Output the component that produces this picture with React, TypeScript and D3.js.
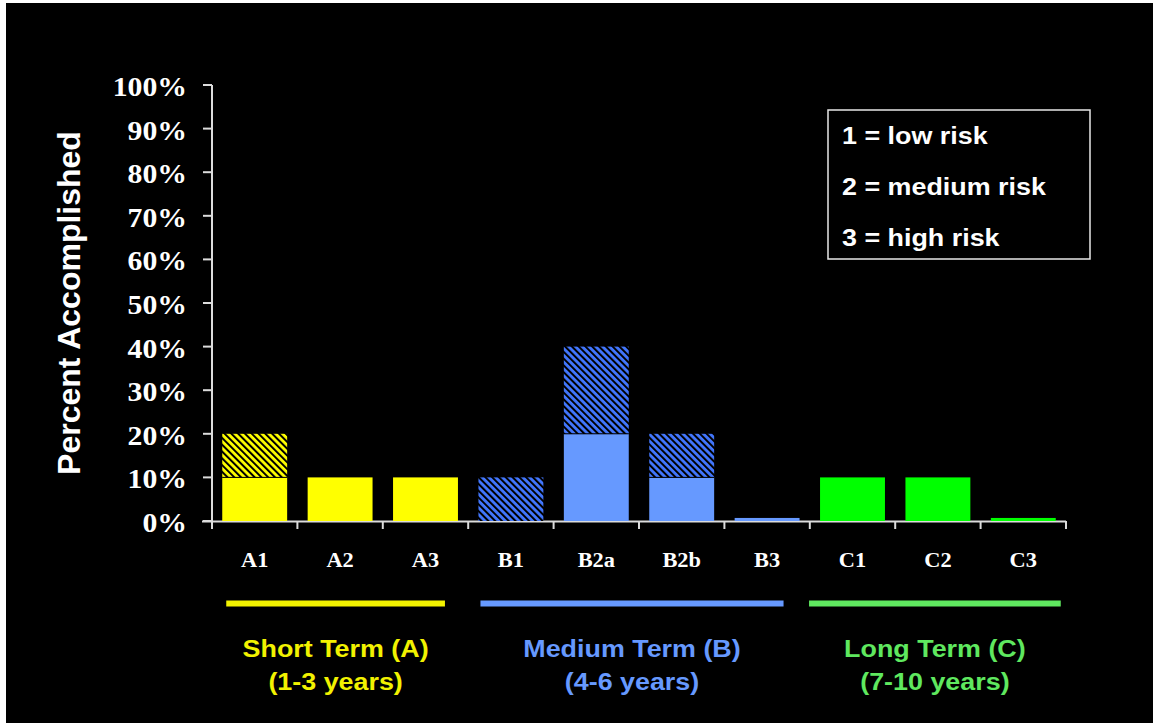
import React from "react";
import * as d3 from "d3";

// ---------- data ----------
const categories = ["A1", "A2", "A3", "B1", "B2a", "B2b", "B3", "C1", "C2", "C3"];
const baseValues = [10, 10, 10, 0, 20, 10, 0.7, 10, 10, 0.7];
const hatchedValues = [10, 0, 0, 10, 20, 10, 0, 0, 0, 0];
const categoryGroup = ["A", "A", "A", "B", "B", "B", "B", "C", "C", "C"];
const yTicks = [0, 10, 20, 30, 40, 50, 60, 70, 80, 90, 100];
const groupKeys = ["A", "B", "C"];
const groupTitles = ["Short Term (A)", "Medium Term (B)", "Long Term (C)"];
const groupSubtitles = ["(1-3 years)", "(4-6 years)", "(7-10 years)"];
const groupFirst = ["A1", "B1", "C1"];
const groupLast = ["A3", "B3", "C3"];
const legendLines = ["1 = low risk", "2 = medium risk", "3 = high risk"];

// ---------- styles ----------
const W = 1153;
const H = 723;
const SX = 1.12; // horizontal text stretch
const barColor: Record<string, string> = { A: "#ffff00", B: "#6699ff", C: "#00ff00" };
const hatchColor: Record<string, string> = { A: "#ffff00", B: "#4277ff", C: "#00ff00" };
const groupTextColor: Record<string, string> = { A: "#f2f200", B: "#6699ff", C: "#5fe85f" };
const groupInset: Record<string, [number, number]> = { A: [4, -13], B: [2, -16], C: [-11, 5] };
const axisColor = "#dcdcdc";

export default function App() {
  const x = d3.scaleBand<string>().domain(categories).range([212, 1066]).paddingInner(0.24).paddingOuter(0.12);
  const y = d3.scaleLinear().domain([0, 100]).range([521, 85]);
  const bw = x.bandwidth();
  const step = x.step();
  const boundaries = d3.range(categories.length + 1).map((i) => 212 + i * step);

  const stretched = (tx: number, ty: number, s = SX) => `translate(${tx},${ty}) scale(${s},1)`;

  return (
    <svg width={W} height={H} style={{ position: "absolute", left: 0, top: 0 }}>
      <defs>
        {groupKeys.map((g) => (
          <pattern
            key={g}
            id={`hatch-${g}`}
            patternUnits="userSpaceOnUse"
            width={4.8}
            height={4.8}
            patternTransform="rotate(-45)"
          >
            <rect width={4.8} height={4.8} fill={hatchColor[g]} />
            <rect width={2.0} height={4.8} fill="#000" />
          </pattern>
        ))}
      </defs>
      <rect x={0} y={0} width={W} height={H} fill="#ffffff" />
      <rect x={6} y={3} width={W - 6} height={H - 3} fill="#000000" />

      {/* y axis title */}
      <text
        transform={`translate(80,303) rotate(-90)`}
        textAnchor="middle"
        fill="#ffffff"
        fontFamily="Liberation Sans, Arial, sans-serif"
        fontWeight="bold"
        fontSize={32}
      >
        Percent Accomplished
      </text>

      {/* y axis */}
      <line x1={212} x2={212} y1={y(100)} y2={y(0)} stroke={axisColor} strokeWidth={2} />
      {yTicks.map((t) => (
        <g key={t}>
          <line x1={203} x2={212} y1={y(t)} y2={y(t)} stroke={axisColor} strokeWidth={2} />
          <text
            transform={stretched(187, y(t) + 11, 1.1)}
            textAnchor="end"
            fill="#ffffff"
            fontFamily="Liberation Serif, Times New Roman, serif"
            fontWeight="bold"
            fontSize={27}
          >
            {`${t}%`}
          </text>
        </g>
      ))}

      {/* x axis */}
      <line x1={202} x2={1066} y1={y(0) + 0.5} y2={y(0) + 0.5} stroke={axisColor} strokeWidth={2} />
      {boundaries.map((bx, i) => (
        <line key={i} x1={bx} x2={bx} y1={y(0)} y2={y(0) + 8} stroke={axisColor} strokeWidth={2} />
      ))}

      {/* bars */}
      {categories.map((c, i) => {
        const g = categoryGroup[i];
        const b = baseValues[i];
        const h = hatchedValues[i];
        const x0 = x(c) as number;
        return (
          <g key={c}>
            {b > 0 && (
              <rect x={x0} y={y(b)} width={bw} height={y(0) - y(b)} fill={barColor[g]} />
            )}
            {h > 0 && (
              <rect x={x0} y={y(b + h)} width={bw} height={y(b) - y(b + h)} fill={`url(#hatch-${g})`} />
            )}
            {h > 0 && b > 0 && (
              <line x1={x0} x2={x0 + bw} y1={y(b)} y2={y(b)} stroke="#000" strokeWidth={1} />
            )}
          </g>
        );
      })}

      {categories.map((c) => (
        <text
          key={c}
          transform={stretched((x(c) as number) + bw / 2, 567)}
          textAnchor="middle"
          fill="#ffffff"
          fontFamily="Liberation Serif, Times New Roman, serif"
          fontWeight="bold"
          fontSize={20}
        >
          {c}
        </text>
      ))}

      {/* group lines and labels */}
      {groupKeys.map((g, i) => {
        const x1 = (x(groupFirst[i]) as number) + groupInset[g][0];
        const x2 = (x(groupLast[i]) as number) + bw + groupInset[g][1];
        const cx = (x1 + x2) / 2;
        return (
          <g key={g}>
            <line x1={x1} x2={x2} y1={603.5} y2={603.5} stroke={groupTextColor[g]} strokeWidth={6} />
            <text
              transform={stretched(cx, 657)}
              textAnchor="middle"
              fill={groupTextColor[g]}
              fontFamily="Liberation Sans, Arial, sans-serif"
              fontWeight="bold"
              fontSize={24}
            >
              {groupTitles[i]}
            </text>
            <text
              transform={stretched(cx, 690)}
              textAnchor="middle"
              fill={groupTextColor[g]}
              fontFamily="Liberation Sans, Arial, sans-serif"
              fontWeight="bold"
              fontSize={24}
            >
              {groupSubtitles[i]}
            </text>
          </g>
        );
      })}

      {/* legend box */}
      <rect x={828} y={110} width={262} height={149} fill="#000" stroke="#e8e8e8" strokeWidth={1.5} />
      {legendLines.map((l, i) => (
        <text
          key={l}
          transform={stretched(842, 144 + i * 51)}
          fill="#ffffff"
          fontFamily="Liberation Sans, Arial, sans-serif"
          fontWeight="bold"
          fontSize={24}
        >
          {l}
        </text>
      ))}
    </svg>
  );
}
